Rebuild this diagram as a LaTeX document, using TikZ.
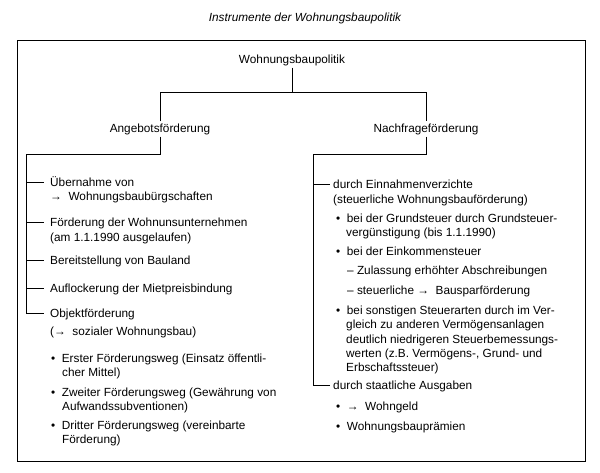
\documentclass[tikz,border=0pt]{standalone}
\usepackage{fontspec}
\setmainfont{Liberation Sans}
\begin{document}
\begin{tikzpicture}[x=1pt,y=-1pt,
  txt/.style={inner sep=0pt,anchor=base west,text height=8.5pt,text depth=0.5pt,font=\fontsize{11.8}{14}\selectfont},
  head/.style={inner sep=2pt,font=\fontsize{11.8}{14}\selectfont},
  ln/.style={line width=0.8pt},
  tick/.style={line width=0.8pt}]
\useasboundingbox (0,0) rectangle (600,472);
% title
\node[inner sep=0pt,font=\fontsize{11.8}{13}\itshape\selectfont] (title) at (305,18) {Instrumente der Wohnungsbaupolitik};
% frame
\coordinate (fa) at (17,40);
\coordinate (fb) at (585,461);
\draw[ln] (fa) rectangle (fb);
% headings
\node[head] (root) at (292,60) {Wohnungsbaupolitik};
\node[head] (ang) at (160,129) {Angebotsförderung};
\node[head] (nach) at (426,129) {Nachfrageförderung};
\coordinate (j) at (292,92);
\draw[ln] (root.south) -- (j);
\draw[ln] (ang.north) -- (ang.north|-j) -- (nach.north|-j) -- (nach.north);
% branch brackets
\coordinate (lt) at (26,154);
\coordinate (rt) at (313,154);
\draw[ln] (ang.south) -- (ang.south|-lt) -- (lt);
\draw[ln] (nach.south) -- (nach.south|-rt) -- (rt);
% left items
\node[txt] (l1) at (50,186) {Übernahme von};
\node[txt] (l1b) at (50,200) {→\ \ Wohnungsbaubürgschaften};
\node[txt] (l2) at (50,226) {Förderung der Wohnunsunternehmen};
\node[txt] (l2b) at (50,241) {(am 1.1.1990 ausgelaufen)};
\node[txt] (l3) at (50,264) {Bereitstellung von Bauland};
\node[txt] (l4) at (50,292) {Auflockerung der Mietpreisbindung};
\node[txt] (l5) at (50,317) {Objektförderung};
\node[txt] (l5b) at (50,335) {(→\ \ sozialer Wohnungsbau)};
\node[txt] (b1) at (51,362) {•\ \ Erster Förderungsweg (Einsatz öffentli-};
\node[txt] (b1b) at (62,376) {cher Mittel)};
\node[txt] (b2) at (51,396) {•\ \ Zweiter Förderungsweg (Gewährung von};
\node[txt] (b2b) at (62,410) {Aufwandssubventionen)};
\node[txt] (b3) at (51,429) {•\ \ Dritter Förderungsweg (vereinbarte};
\node[txt] (b3b) at (62,443) {Förderung)};
\draw[ln] (lt) -- (lt|-l5.west) -- ([xshift=-6pt]l5.west);
\foreach \n in {l1,l2,l3,l4}
  \draw[tick] (lt|-\n.west) -- ([xshift=-6pt]\n.west);
% right items
\node[txt] (r1) at (333,188) {durch Einnahmenverzichte};
\node[txt] (r1b) at (333,203) {(steuerliche Wohnungsbauförderung)};
\node[txt] (rb1) at (336,222) {•\ \ bei der Grundsteuer durch Grundsteuer-};
\node[txt] (rb1b) at (346,236) {vergünstigung (bis 1.1.1990)};
\node[txt] (rb2) at (336,255) {•\ \ bei der Einkommensteuer};
\node[txt] (rd1) at (347,274) {– Zulassung erhöhter Abschreibungen};
\node[txt] (rd2) at (347,294) {– steuerliche →\ \ Bausparförderung};
\node[txt] (rb3) at (336,314) {•\ \ bei sonstigen Steuerarten durch im Ver-};
\node[txt] (rb3b) at (346,328) {gleich zu anderen Vermögensanlagen};
\node[txt] (rb3c) at (346,343) {deutlich niedrigeren Steuerbemessungs-};
\node[txt] (rb3d) at (346,357) {werten (z.B. Vermögens-, Grund- und};
\node[txt] (rb3e) at (346,371) {Erbschaftssteuer)};
\node[txt] (r2) at (333,389) {durch staatliche Ausgaben};
\node[txt] (rb4) at (336,410) {•\ \ →\ \ Wohngeld};
\node[txt] (rb5) at (336,430) {•\ \ Wohnungsbauprämien};
\draw[ln] (rt) -- (rt|-r2.west) -- ([xshift=-3pt]r2.west);
\draw[tick] (rt|-r1.west) -- ([xshift=-3pt]r1.west);
\end{tikzpicture}
\end{document}
